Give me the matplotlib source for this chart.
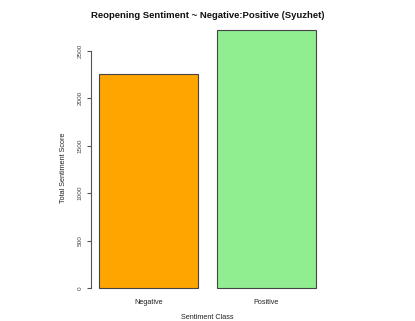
import matplotlib
matplotlib.use("Agg")
import matplotlib.pyplot as plt
from matplotlib.transforms import blended_transform_factory

plt.rcParams['font.family'] = ['Liberation Sans', 'DejaVu Sans']

categories = ["Negative", "Positive"]
values = [2255, 2718]
colors = ["#FFA500", "#90EE90"]
yticks = [0, 500, 1000, 1500, 2000, 2500]

W, H = 415, 321
fig = plt.figure(figsize=(W / 100, H / 100), dpi=100)
left_px, right_px, top_px, bot_px = 91, 324, 19.6, 298.6
ax = fig.add_axes([left_px / W, 1 - bot_px / H, (right_px - left_px) / W, (bot_px - top_px) / H])

width = 1.0
space = 0.2
xs = [space + i * (width + space) + width / 2 for i in range(len(categories))]
ax.bar(xs, values, width=width, color=colors, edgecolor="#444444", linewidth=0.8)

ax.set_xlim(0.1156, 2.484)
ax.set_ylim(-0.04 * max(values), 1.04 * max(values))

for s in ["top", "right", "bottom"]:
    ax.spines[s].set_visible(False)
ax.spines["left"].set_bounds(0, 2500)
ax.spines["left"].set_color("#555555")
ax.spines["left"].set_linewidth(0.8)

ax.set_yticks(yticks)
ax.set_yticklabels([str(v) for v in yticks], rotation=90, va="center", fontsize=4.6, color="#444444")
ax.tick_params(axis="y", length=3.1, width=0.8, color="#555555", pad=3)
ax.set_xticks([])

tr = blended_transform_factory(ax.transData, fig.transFigure)
for x, c in zip(xs, categories):
    fig.text(x, 1 - 302.3 / H, c, transform=tr, ha="center", va="center", fontsize=5.2, color="#222222")

fig.text((left_px + right_px) / 2 / W, 1 - 317.3 / H, "Sentiment Class", ha="center", va="center", fontsize=5.2, color="#222222")
fig.text(63.7 / W, 1 - 168 / H, "Total Sentiment Score", ha="center", va="center", rotation=90, fontsize=5.2, color="#222222")
fig.text((left_px + right_px) / 2 / W, 1 - 15.5 / H, "Reopening Sentiment ~ Negative:Positive (Syuzhet)",
         ha="center", va="center", fontsize=6.8, fontweight="bold", color="#111111")

fig.savefig("out.png", dpi=100)
